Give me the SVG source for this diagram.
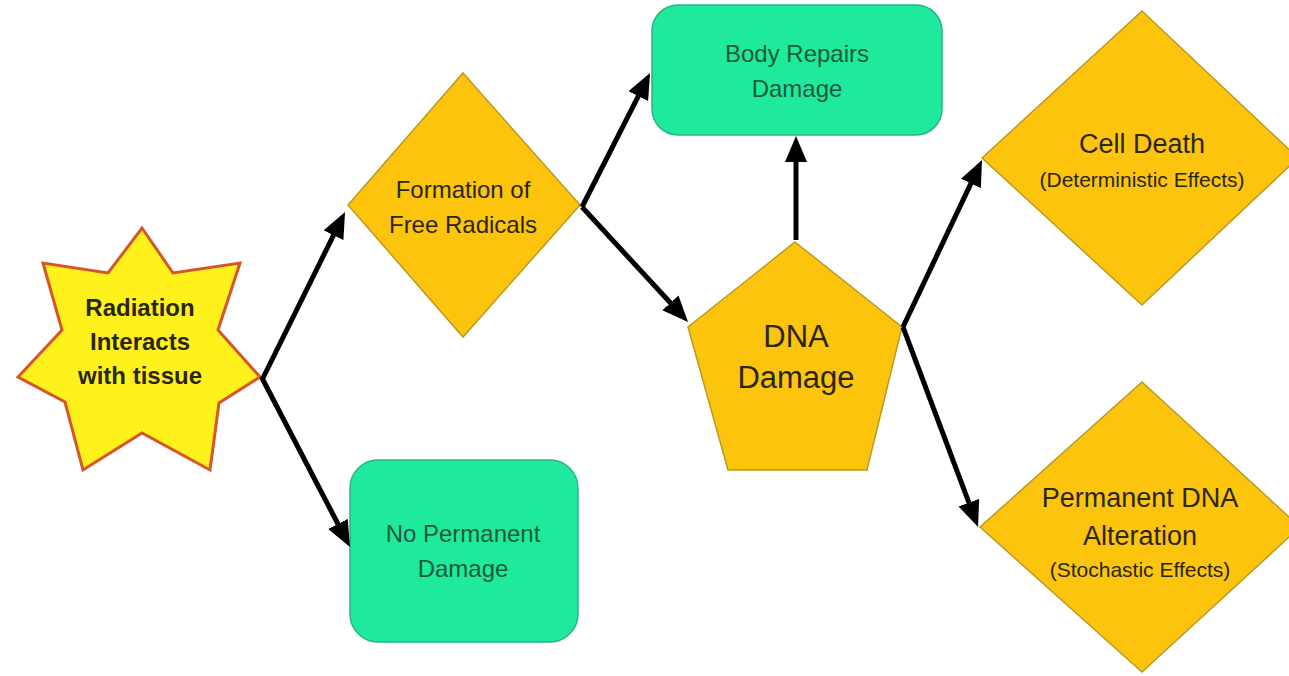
<svg xmlns="http://www.w3.org/2000/svg" width="1289" height="676" viewBox="0 0 1289 676">
<style>
.bg{fill:#ffffff}
.star{fill:#fff21c;stroke:#d4562a;stroke-width:3;stroke-linejoin:miter}
.gold{fill:#fcc40c;stroke:#b99a22;stroke-width:1.5}
.green{fill:#1fe99c;stroke:#2db47d;stroke-width:1.5}
.t{font-family:"Liberation Sans",Arial,sans-serif;text-anchor:middle}
.dark{fill:#2a2614}
.gt{fill:#1f5a3c}
.conn{stroke:#000;stroke-width:5;fill:none}
</style>
<defs>
<marker id="ah" viewBox="0 0 26 22" markerWidth="26" markerHeight="22" refX="4" refY="11" orient="auto" markerUnits="userSpaceOnUse">
<path d="M0,0 L26,11 L0,22 z" fill="#000"/>
</marker>
</defs>
<rect class="bg" x="0" y="0" width="1289" height="676"/>
<g id="node-radiation">
<polygon class="star" points="142,228 173,273 240,263 218,330 260,377 219,403 210,470 142,433 83,470 65,402 18,377 62,330 43,263 108,273"/>
<text class="t dark" x="140" y="316" font-size="24" font-weight="bold">Radiation</text>
<text class="t dark" x="140" y="350" font-size="24" font-weight="bold">Interacts</text>
<text class="t dark" x="140" y="384" font-size="24" font-weight="bold">with tissue</text>
</g>
<g id="node-free-radicals">
<polygon class="gold" points="463,73 580,205 463,337 348,205"/>
<text class="t dark" x="463" y="198" font-size="24">Formation of</text>
<text class="t dark" x="463" y="233" font-size="24">Free Radicals</text>
</g>
<g id="node-no-damage">
<rect class="green" x="350" y="460" width="228" height="182" rx="28"/>
<text class="t gt" x="463" y="542" font-size="24">No Permanent</text>
<text class="t gt" x="463" y="577" font-size="24">Damage</text>
</g>
<g id="node-body-repairs">
<rect class="green" x="652" y="5" width="290" height="130" rx="26"/>
<text class="t gt" x="797" y="62" font-size="24">Body Repairs</text>
<text class="t gt" x="797" y="97" font-size="24">Damage</text>
</g>
<g id="node-dna-damage">
<polygon class="gold" points="795,242 902,327 867,470 728,470 688,327"/>
<text class="t dark" x="796" y="347" font-size="31">DNA</text>
<text class="t dark" x="796" y="388" font-size="31">Damage</text>
</g>
<g id="node-cell-death">
<polygon class="gold" points="1142,11 1298,158 1142,305 982,158"/>
<text class="t dark" x="1142" y="153" font-size="27">Cell Death</text>
<text class="t dark" x="1142" y="187" font-size="21">(Deterministic Effects)</text>
</g>
<g id="node-permanent-dna">
<polygon class="gold" points="1142,382 1300,527 1142,672 980,527"/>
<text class="t dark" x="1140" y="507" font-size="27">Permanent DNA</text>
<text class="t dark" x="1140" y="545" font-size="27">Alteration</text>
<text class="t dark" x="1140" y="577" font-size="21">(Stochastic Effects)</text>
</g>
<g id="connectors">
<line class="conn" x1="262" y1="380" x2="335.3" y2="231.7" marker-end="url(#ah)"/>
<line class="conn" x1="262" y1="378" x2="339.8" y2="527.5" marker-end="url(#ah)"/>
<line class="conn" x1="582" y1="207" x2="640.1" y2="92.6" marker-end="url(#ah)"/>
<line class="conn" x1="582" y1="207" x2="673.1" y2="305.8" marker-end="url(#ah)"/>
<line class="conn" x1="796" y1="240" x2="796" y2="158" marker-end="url(#ah)"/>
<line class="conn" x1="903" y1="327" x2="972.6" y2="179.9" marker-end="url(#ah)"/>
<line class="conn" x1="903" y1="327" x2="970.3" y2="506.4" marker-end="url(#ah)"/>
</g>
</svg>
